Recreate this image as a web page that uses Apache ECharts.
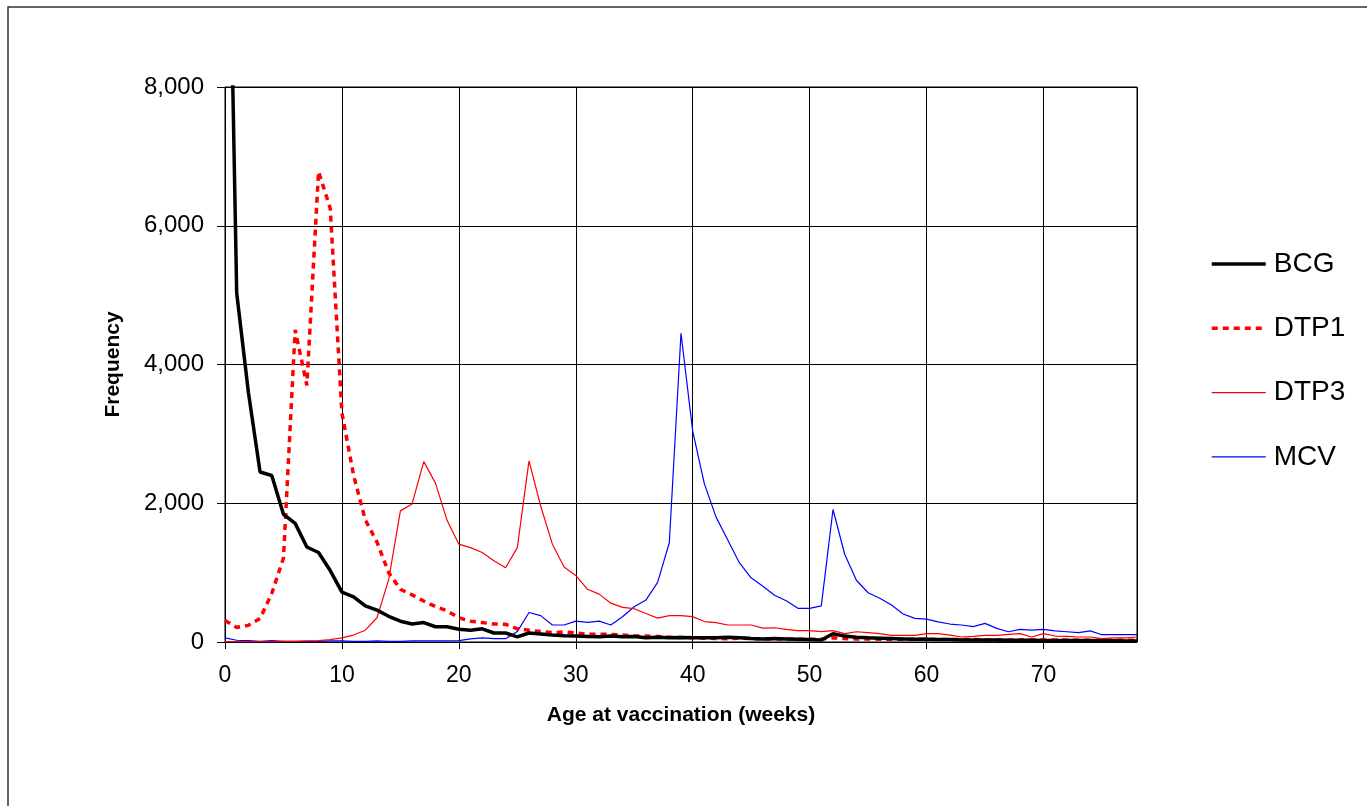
<!DOCTYPE html>
<html>
<head>
<meta charset="utf-8">
<script src="https://cdn.jsdelivr.net/npm/echarts@6/dist/echarts.min.js"></script>
<style>
  html, body { margin: 0; padding: 0; background: #fff; }
  #chart { width: 1367px; height: 806px; }
</style>
</head>
<body>
<div id="chart"></div>
<script>
// age in weeks
var weeks = [0, 1, 2, 3, 4, 5, 6, 7, 8, 9, 10, 11, 12, 13, 14, 15, 16, 17, 18, 19,
    20, 21, 22, 23, 24, 25, 26, 27, 28, 29, 30, 31, 32, 33, 34, 35, 36, 37, 38, 39,
    40, 41, 42, 43, 44, 45, 46, 47, 48, 49, 50, 51, 52, 53, 54, 55, 56, 57, 58, 59,
    60, 61, 62, 63, 64, 65, 66, 67, 68, 69, 70, 71, 72, 73, 74, 75, 76, 77, 78];

var bcg = [14000, 5030, 3600, 2450, 2400, 1840, 1710, 1370, 1290, 1030,
    720, 650, 520, 460, 370, 300, 260, 280, 220, 220,
    185, 170, 190, 130, 130, 75, 130, 115, 100, 90,
    85, 80, 75, 85, 75, 80, 60, 70, 60, 65,
    60, 60, 60, 70, 60, 50, 45, 50, 45, 40,
    35, 30, 120, 85, 70, 60, 55, 50, 45, 40,
    40, 35, 35, 30, 30, 30, 28, 25, 25, 25,
    22, 22, 20, 20, 20, 18, 18, 15, 15];

var dtp1 = [310, 210, 240, 340, 700, 1210, 4500, 3700, 6780, 6250,
    3300, 2400, 1760, 1440, 1000, 760, 680, 590, 510, 450,
    350, 300, 280, 260, 255, 190, 170, 150, 135, 145,
    130, 110, 110, 110, 100, 90, 86, 80, 70, 65,
    62, 55, 50, 48, 55, 50, 45, 45, 45, 40,
    40, 40, 60, 50, 45, 45, 40, 40, 40, 40,
    40, 35, 35, 35, 35, 30, 30, 30, 30, 30,
    30, 30, 30, 25, 25, 25, 25, 25, 25];

var dtp3 = [5, 5, 5, 5, 5, 8, 10, 15, 20, 35,
    60, 100, 170, 350, 900, 1890, 1990, 2600, 2290, 1750,
    1410, 1360, 1290, 1170, 1070, 1360, 2610, 1960, 1410, 1080,
    960, 760, 690, 560, 500, 480, 410, 345, 380, 380,
    365, 295, 280, 245, 245, 245, 200, 205, 183, 165,
    165, 150, 165, 120, 148, 134, 120, 96, 96, 96,
    120, 120, 100, 72, 80, 96, 96, 110, 120, 72,
    120, 86, 80, 72, 72, 50, 60, 60, 72];

var mcv = [60, 25, 20, 10, 20, 10, 10, 10, 10, 15,
    15, 10, 10, 15, 10, 10, 15, 15, 15, 15,
    20, 45, 60, 48, 48, 150, 425, 380, 245, 245,
    300, 283, 300, 245, 365, 508, 604, 860, 1430, 4450,
    3040, 2280, 1800, 1470, 1140, 925, 805, 675, 595, 485,
    485, 520, 1910, 1265, 890, 710, 630, 533, 403, 341,
    330, 290, 259, 245, 221, 269, 197, 148, 183, 170,
    183, 160, 148, 134, 160, 105, 105, 105, 105];

var seriesNames = ['BCG', 'DTP1', 'DTP3', 'MCV'];

function pairs(vals) {
    var out = [];
    for (var i = 0; i < weeks.length; i++) {
        out.push([weeks[i], vals[i]]);
    }
    return out;
}

var font = "'Liberation Sans', Arial, sans-serif";
var myChart = echarts.init(document.getElementById('chart'));

// line look per series, shared by the plot and the legend
var styles = {
    BCG: { color: '#000', width: 3.5 },
    DTP1: { color: '#ff0000', width: 3.5, type: [6, 5] },
    DTP3: { color: '#ff0000', width: 1.2 },
    MCV: { color: '#0000ff', width: 1.2 }
};

var option = {
    animation: false,
    backgroundColor: '#fff',
    graphic: [{
        type: 'rect',
        shape: { x: 8, y: 7, width: 1420, height: 900 },
        style: { fill: 'none', stroke: '#333', lineWidth: 1.5 },
        silent: true
    }],
    grid: {
        left: 225,
        right: 230,
        top: 87,
        bottom: 164,
        show: true,
        borderColor: '#000',
        borderWidth: 1
    },
    legend: {
        orient: 'vertical',
        left: 1210,
        top: 250,
        padding: 0,
        itemWidth: 54,
        itemHeight: 14,
        itemGap: 36.3,
        data: seriesNames.map(function (n) {
            return { name: n, lineStyle: styles[n] };
        }),
        itemStyle: { opacity: 0 },
        textStyle: {
            fontFamily: font,
            fontSize: 28,
            lineHeight: 26,
            color: '#000',
            padding: [0, 0, 0, 3]
        }
    },
    xAxis: {
        type: 'value',
        min: 0,
        max: 78,
        interval: 10,
        name: 'Age at vaccination (weeks)',
        nameLocation: 'middle',
        nameGap: 63,
        nameTextStyle: { fontFamily: font, fontSize: 21, fontWeight: 'bold', color: '#000' },
        axisLine: { show: true, lineStyle: { color: '#000', width: 1 } },
        axisTick: { show: true, length: 7, lineStyle: { color: '#000' } },
        axisLabel: { fontFamily: font, fontSize: 23, color: '#000', margin: 22, showMaxLabel: false },
        splitLine: { show: true, lineStyle: { color: '#000', width: 1 } }
    },
    yAxis: {
        type: 'value',
        min: 0,
        max: 8000,
        interval: 2000,
        name: 'Frequency',
        nameLocation: 'middle',
        nameGap: 101,
        nameTextStyle: { fontFamily: font, fontSize: 21, fontWeight: 'bold', color: '#000' },
        axisLine: { show: true, lineStyle: { color: '#000', width: 1 } },
        axisTick: { show: true, length: 8, lineStyle: { color: '#000' } },
        axisLabel: {
            fontFamily: font, fontSize: 24, color: '#000', margin: 21,
            formatter: function (v) { return v.toLocaleString('en-US'); }
        },
        splitLine: { show: true, lineStyle: { color: '#000', width: 1 } }
    },
    series: [{
        name: 'BCG',
        type: 'line',
        symbol: 'none',
        data: pairs(bcg),
        lineStyle: styles.BCG,
        itemStyle: { color: '#000' },
        z: 5
    }, {
        name: 'DTP1',
        type: 'line',
        symbol: 'none',
        data: pairs(dtp1),
        lineStyle: styles.DTP1,
        itemStyle: { color: '#ff0000' },
        z: 4
    }, {
        name: 'DTP3',
        type: 'line',
        symbol: 'none',
        data: pairs(dtp3),
        lineStyle: styles.DTP3,
        itemStyle: { color: '#ff0000' },
        z: 3
    }, {
        name: 'MCV',
        type: 'line',
        symbol: 'none',
        data: pairs(mcv),
        lineStyle: styles.MCV,
        itemStyle: { color: '#0000ff' },
        z: 2
    }]
};

myChart.setOption(option);
</script>
</body>
</html>
